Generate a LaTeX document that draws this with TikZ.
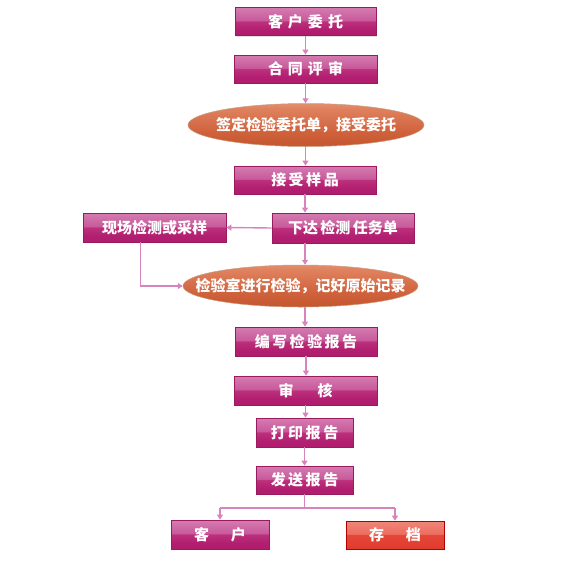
\documentclass[tikz,border=0pt]{standalone}
\usepackage{fontspec}
\setmainfont{Noto Sans CJK SC}
\usetikzlibrary{arrows.meta,shapes.geometric,shadows}
\definecolor{lnpink}{HTML}{D884BC}
\definecolor{bxborder}{HTML}{9A1A5E}
\definecolor{elborder}{HTML}{C8A080}
\pgfdeclareverticalshading{magentaglossy}{100bp}{
  color(0bp)=(rgb,255:red,168;green,24;blue,106);
  color(35bp)=(rgb,255:red,178;green,30;blue,112);
  color(50bp)=(rgb,255:red,188;green,48;blue,124);
  color(52bp)=(rgb,255:red,200;green,90;blue,155);
  color(100bp)=(rgb,255:red,226;green,160;blue,200)}
\pgfdeclareverticalshading{redglossy}{100bp}{
  color(0bp)=(rgb,255:red,220;green,50;blue,36);
  color(50bp)=(rgb,255:red,228;green,70;blue,56);
  color(52bp)=(rgb,255:red,236;green,110;blue,96);
  color(100bp)=(rgb,255:red,244;green,160;blue,150)}
\pgfdeclareverticalshading{orangeglossy}{100bp}{
  color(0bp)=(rgb,255:red,180;green,70;blue,30);
  color(40bp)=(rgb,255:red,206;green,96;blue,58);
  color(70bp)=(rgb,255:red,224;green,130;blue,95);
  color(100bp)=(rgb,255:red,246;green,200;blue,175)}
\tikzset{
  txt/.style={text=white, font=\fontsize{15}{17}\selectfont\bfseries, inner sep=0pt},
  box/.style={rectangle, draw=bxborder, line width=0.8pt, shading=magentaglossy, txt,
    drop shadow={opacity=0.25, shadow xshift=1.2pt, shadow yshift=-1.2pt}},
  redbox/.style={box, draw=red!70!black, shading=redglossy},
  oval/.style={ellipse, draw=elborder, line width=0.5pt, shading=orangeglossy, inner sep=0pt},
  conn/.style={draw=lnpink, line width=1.4pt},
  arr/.style={conn, -{Triangle[width=6pt,length=5pt]}}
}
\begin{document}
\begin{tikzpicture}[x=1pt,y=-1pt]
\useasboundingbox (0,0) rectangle (581,560);
\node[box, minimum width=141pt, minimum height=28pt] (n1) at (305.5,21.5) {客\,\,户\,\,委\,\,托};
\node[box, minimum width=143pt, minimum height=28pt] (n2) at (305.5,69) {合\,\,同\,\,评\,\,审};
\node[oval, minimum width=236pt, minimum height=43pt] (e3) at (306,125) {};
\node[txt] (t3) at (e3.center) {签定检验委托单，接受委托};
\node[box, minimum width=142pt, minimum height=28pt] (n4) at (305,180) {接\,受\,样\,品};
\node[box, minimum width=142pt, minimum height=30pt] (n5) at (343,228) {下达\,检测\,任务单};
\node[box, minimum width=143pt, minimum height=29pt] (n6) at (154.5,227.5) {现场检测或采样};
\node[oval, minimum width=235pt, minimum height=42pt] (e7) at (300.5,286) {};
\node[txt] (t7) at (e7.center) {检验室进行检验，记好原始记录};
\node[box, minimum width=142pt, minimum height=29pt] (n8) at (306,341.5) {编\,写\,检\,验\,报\,告};
\node[box, minimum width=143pt, minimum height=29pt] (n9) at (305.5,390.5) {审\hspace{24pt}核};
\node[box, minimum width=97pt, minimum height=29pt] (n10) at (304.5,432.5) {打\,印\,报\,告};
\node[box, minimum width=97pt, minimum height=28pt] (n11) at (304.5,480) {发\,送\,报\,告};
\node[box, minimum width=98pt, minimum height=29pt] (n12) at (220,534.5) {客\hspace{22pt}户};
\node[redbox, minimum width=98pt, minimum height=28pt] (n13) at (395,535) {存\hspace{22pt}档};
\coordinate (split) at (304.5,508);
\draw[arr] (n1.south) -- (n2.north);
\draw[arr] (n2.south) -- (n2.south |- e3.north);
\draw[arr] (n2.south |- e3.south) -- (n2.south |- n4.north);
\draw[arr] (n4.south) -- (n4.south |- n5.north);
\draw[arr] (n5.west) -- (n6.east);
\draw[arr] (n4.south |- n5.south) -- (n4.south |- e7.north);
\draw[arr] ([xshift=-14pt]n6.south) |- (e7.west);
\draw[arr] (n4.south |- e7.south) -- (n4.south |- n8.north);
\draw[arr] (n8.south) -- (n8.south |- n9.north);
\draw[arr] (n9.south) -- (n9.south |- n10.north);
\draw[arr] (n10.south) -- (n11.north);
\draw[conn] (n11.south) -- (split);
\draw[conn] (n12.north |- split) -- (n13.north |- split);
\draw[arr] (n12.north |- split) -- (n12.north);
\draw[arr] (n13.north |- split) -- (n13.north);
\end{tikzpicture}
\end{document}
